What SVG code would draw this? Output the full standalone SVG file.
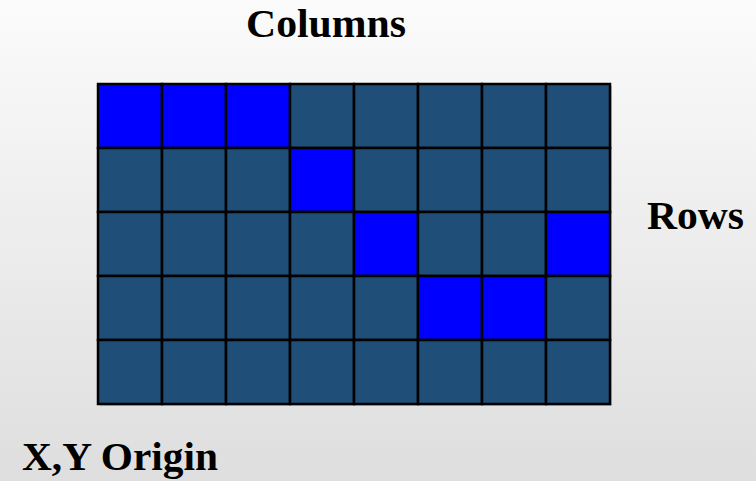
<svg xmlns="http://www.w3.org/2000/svg" width="756" height="481" viewBox="0 0 756 481">
<defs>
<linearGradient id="bg" x1="0" y1="0" x2="0" y2="1">
<stop offset="0" stop-color="#fbfbfb"/>
<stop offset="1" stop-color="#dedede"/>
</linearGradient>
</defs>
<style>
.c{fill:#1f4e79;stroke:#000;stroke-width:2.5}
.b{fill:#0000ff;stroke:#000;stroke-width:2.5}
.t{font-family:"Liberation Serif",serif;font-weight:bold;fill:#000}
</style>
<rect width="756" height="481" fill="url(#bg)"/>
<rect x="100" y="86" width="512" height="320" fill="#999" opacity="0.5"/>
<g id="grid">
<rect class="b" x="98" y="84" width="64" height="64"/>
<rect class="b" x="162" y="84" width="64" height="64"/>
<rect class="b" x="226" y="84" width="64" height="64"/>
<rect class="c" x="290" y="84" width="64" height="64"/>
<rect class="c" x="354" y="84" width="64" height="64"/>
<rect class="c" x="418" y="84" width="64" height="64"/>
<rect class="c" x="482" y="84" width="64" height="64"/>
<rect class="c" x="546" y="84" width="64" height="64"/>
<rect class="c" x="98" y="148" width="64" height="64"/>
<rect class="c" x="162" y="148" width="64" height="64"/>
<rect class="c" x="226" y="148" width="64" height="64"/>
<rect class="b" x="290" y="148" width="64" height="64"/>
<rect class="c" x="354" y="148" width="64" height="64"/>
<rect class="c" x="418" y="148" width="64" height="64"/>
<rect class="c" x="482" y="148" width="64" height="64"/>
<rect class="c" x="546" y="148" width="64" height="64"/>
<rect class="c" x="98" y="212" width="64" height="64"/>
<rect class="c" x="162" y="212" width="64" height="64"/>
<rect class="c" x="226" y="212" width="64" height="64"/>
<rect class="c" x="290" y="212" width="64" height="64"/>
<rect class="b" x="354" y="212" width="64" height="64"/>
<rect class="c" x="418" y="212" width="64" height="64"/>
<rect class="c" x="482" y="212" width="64" height="64"/>
<rect class="b" x="546" y="212" width="64" height="64"/>
<rect class="c" x="98" y="276" width="64" height="64"/>
<rect class="c" x="162" y="276" width="64" height="64"/>
<rect class="c" x="226" y="276" width="64" height="64"/>
<rect class="c" x="290" y="276" width="64" height="64"/>
<rect class="c" x="354" y="276" width="64" height="64"/>
<rect class="b" x="418" y="276" width="64" height="64"/>
<rect class="b" x="482" y="276" width="64" height="64"/>
<rect class="c" x="546" y="276" width="64" height="64"/>
<rect class="c" x="98" y="340" width="64" height="64"/>
<rect class="c" x="162" y="340" width="64" height="64"/>
<rect class="c" x="226" y="340" width="64" height="64"/>
<rect class="c" x="290" y="340" width="64" height="64"/>
<rect class="c" x="354" y="340" width="64" height="64"/>
<rect class="c" x="418" y="340" width="64" height="64"/>
<rect class="c" x="482" y="340" width="64" height="64"/>
<rect class="c" x="546" y="340" width="64" height="64"/>
</g>
<g id="labels">
<text class="t" x="246" y="37" font-size="40" textLength="160" lengthAdjust="spacingAndGlyphs">Columns</text>
<text class="t" x="647" y="229" font-size="40" textLength="97" lengthAdjust="spacingAndGlyphs">Rows</text>
<text class="t" x="22" y="470" font-size="40" textLength="196" lengthAdjust="spacingAndGlyphs">X,Y Origin</text>
</g>
</svg>
